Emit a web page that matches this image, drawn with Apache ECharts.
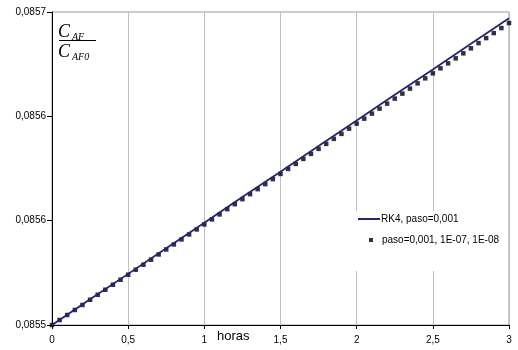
<!DOCTYPE html>
<html lang="es">

<head>
    <meta charset="UTF-8">
    <title>RK4</title>
    <style>
        html, body { margin: 0; padding: 0; background: #fff; }
        #main { width: 518px; height: 350px; }
    </style>
</head>

<body>
    <div id="main"></div>
    <script src="https://cdn.jsdelivr.net/npm/echarts@6/dist/echarts.min.js"></script>
    <script>
        // RK4, paso=0,001 (linea)
        var rk4Horas = [0, 0.25, 0.5, 0.75, 1, 1.25, 1.5, 1.75, 2, 2.25, 2.5, 2.75, 3];
        var rk4Valores = [0.0855000, 0.0855123, 0.0855245, 0.0855368, 0.0855490, 0.0855613, 0.0855735,
            0.0855858, 0.0855980, 0.0856103, 0.0856225, 0.0856348, 0.0856470];

        // paso=0,001, 1E-07, 1E-08 (puntos)
        var ptsHoras = [0, 0.05, 0.1, 0.15, 0.2, 0.25, 0.3, 0.35, 0.4, 0.45, 0.5, 0.55, 0.6, 0.65, 0.7, 0.75,
            0.8, 0.85, 0.9, 0.95, 1, 1.05, 1.1, 1.15, 1.2, 1.25, 1.3, 1.35, 1.4, 1.45, 1.5, 1.55, 1.6, 1.65,
            1.7, 1.75, 1.8, 1.85, 1.9, 1.95, 2, 2.05, 2.1, 2.15, 2.2, 2.25, 2.3, 2.35, 2.4, 2.45, 2.5, 2.55,
            2.6, 2.65, 2.7, 2.75, 2.8, 2.85, 2.9, 2.95, 3];
        var ptsValores = [0.0855000, 0.0855024, 0.0855048, 0.0855072, 0.0855096, 0.0855121, 0.0855145,
            0.0855169, 0.0855193, 0.0855217, 0.0855241, 0.0855265, 0.0855289, 0.0855313, 0.0855338,
            0.0855362, 0.0855386, 0.0855410, 0.0855434, 0.0855458, 0.0855482, 0.0855506, 0.0855530,
            0.0855555, 0.0855579, 0.0855603, 0.0855627, 0.0855651, 0.0855675, 0.0855699, 0.0855724,
            0.0855748, 0.0855772, 0.0855796, 0.0855820, 0.0855844, 0.0855868, 0.0855892, 0.0855916,
            0.0855941, 0.0855965, 0.0855989, 0.0856013, 0.0856037, 0.0856061, 0.0856085, 0.0856109,
            0.0856133, 0.0856158, 0.0856182, 0.0856206, 0.0856230, 0.0856254, 0.0856278, 0.0856302,
            0.0856326, 0.0856351, 0.0856375, 0.0856399, 0.0856423, 0.0856447];

        var nombres = ["RK4, paso=0,001", "paso=0,001, 1E-07, 1E-08"];

        function pares(xs, ys) {
            return xs.map(function (x, i) { return [x, ys[i]]; });
        }

        var fuente = "Liberation Sans, Arial, sans-serif";
        var serif = "Liberation Serif, Times New Roman, serif";

        var myChart = echarts.init(document.getElementById("main"));
        var option = {
            backgroundColor: "#fff",
            animation: false,
            grid: {
                left: 52,
                right: 9,
                top: 12,
                bottom: 25,
                show: true,
                borderColor: "#999",
                borderWidth: 1
            },
            legend: [{
                data: [nombres[0]],
                left: 358,
                top: 214,
                itemWidth: 22,
                itemHeight: 2,
                icon: "rect",
                padding: 0,
                textStyle: { fontFamily: fuente, fontSize: 10, color: "#000", padding: [0, 0, 0, -4] },
                z: 5
            }, {
                data: [nombres[1]],
                left: 369,
                top: 235,
                itemWidth: 4,
                itemHeight: 4,
                icon: "rect",
                padding: 0,
                textStyle: { fontFamily: fuente, fontSize: 10, color: "#000", padding: [0, 0, 0, 4] },
                z: 5
            }],
            xAxis: {
                type: "value",
                min: 0,
                max: 3,
                interval: 0.5,
                axisLine: { lineStyle: { color: "#000", width: 1 } },
                axisTick: { show: true, length: 4, lineStyle: { color: "#000" } },
                axisLabel: {
                    margin: 10,
                    fontFamily: fuente,
                    fontSize: 10,
                    color: "#000",
                    formatter: function (v) { return String(v).replace(".", ","); }
                },
                splitLine: { show: true, lineStyle: { color: "#c0c0c0", width: 1 } }
            },
            yAxis: {
                type: "value",
                min: 0.0855,
                max: 0.08565,
                interval: 0.00005,
                axisLine: { show: true, lineStyle: { color: "#000", width: 1 } },
                axisTick: { show: true, length: 5, lineStyle: { color: "#000" } },
                axisLabel: {
                    margin: 6,
                    fontFamily: fuente,
                    fontSize: 10,
                    color: "#000",
                    formatter: function (v) {
                        // 4 decimales como Excel
                        var n = Math.round(v * 1e5);
                        var m = Math.round(n / 10);
                        return "0," + String(m).padStart(4, "0");
                    }
                },
                splitLine: { show: false }
            },
            graphic: [
                // fondo blanco de la leyenda
                { type: "rect", left: 352, top: 211, shape: { width: 153, height: 60 }, style: { fill: "#fff" }, z: 3 },
                // C_AF / C_AF0
                { type: "text", left: 58, top: 23, style: { text: "C", font: "italic 18px " + serif, fill: "#000" }, z: 6 },
                { type: "text", left: 72, top: 32, style: { text: "AF", font: "italic 10px " + serif, fill: "#000" }, z: 6 },
                { type: "rect", left: 59, top: 40, shape: { width: 37, height: 1 }, style: { fill: "#000" }, z: 6 },
                { type: "text", left: 58, top: 43, style: { text: "C", font: "italic 18px " + serif, fill: "#000" }, z: 6 },
                { type: "text", left: 72, top: 52, style: { text: "AF0", font: "italic 10px " + serif, fill: "#000" }, z: 6 },
                // nombre del eje x
                { type: "text", left: 217, top: 330, style: { text: "horas", font: "13px " + fuente, fill: "#000" }, z: 6 }
            ],
            series: [{
                name: nombres[1],
                type: "scatter",
                symbol: "rect",
                symbolSize: 4.5,
                itemStyle: { color: "#000" },
                data: pares(ptsHoras, ptsValores),
                z: 2
            }, {
                name: nombres[0],
                type: "line",
                symbol: "none",
                lineStyle: { color: "#22227f", width: 1.8 },
                itemStyle: { color: "#22227f" },
                data: pares(rk4Horas, rk4Valores),
                z: 3
            }]
        };
        myChart.setOption(option, true);
    </script>
</body>

</html>
